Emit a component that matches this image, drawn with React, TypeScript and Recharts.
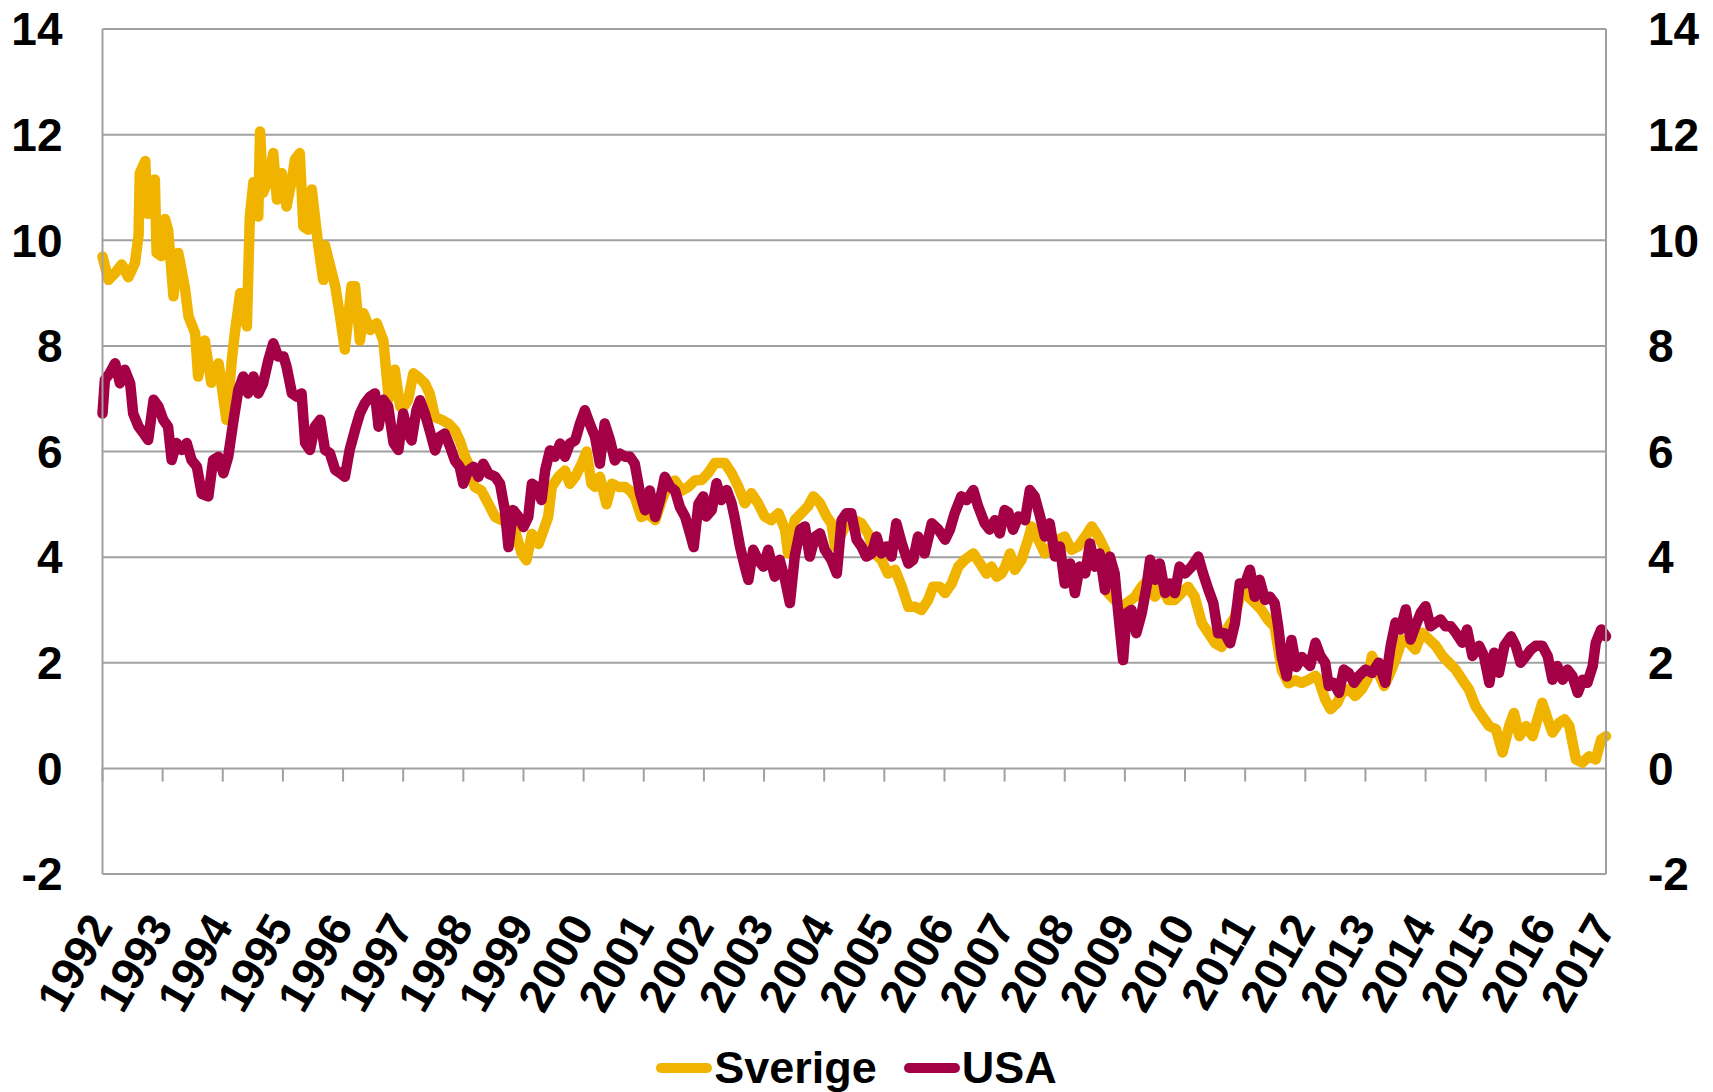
import React from "react";
import {
  CartesianGrid,
  Legend,
  Line,
  LineChart,
  ReferenceLine,
  XAxis,
  YAxis,
} from "recharts";

// decimal year / yield (%)
const sverigeDates = [
  1992.0, 1992.1, 1992.21, 1992.32, 1992.43, 1992.54, 1992.6, 1992.62, 1992.71, 1992.75,
  1992.79, 1992.87, 1992.9, 1992.98, 1993.04, 1993.09, 1993.18, 1993.26, 1993.37, 1993.43,
  1993.54, 1993.59, 1993.7, 1993.81, 1993.93, 1994.06, 1994.15, 1994.2, 1994.29, 1994.4,
  1994.45, 1994.51, 1994.59, 1994.62, 1994.67, 1994.76, 1994.84, 1994.9, 1994.98, 1995.06,
  1995.15, 1995.2, 1995.28, 1995.34, 1995.42, 1995.48, 1995.59, 1995.67, 1995.7, 1995.87,
  1995.95, 1996.03, 1996.14, 1996.2, 1996.28, 1996.34, 1996.45, 1996.56, 1996.67, 1996.76,
  1996.86, 1996.95, 1997.0, 1997.08, 1997.17, 1997.25, 1997.36, 1997.44, 1997.53, 1997.64,
  1997.75, 1997.86, 1997.94, 1998.03, 1998.11, 1998.19, 1998.3, 1998.42, 1998.53, 1998.64,
  1998.75, 1998.86, 1998.97, 1999.05, 1999.14, 1999.25, 1999.33, 1999.41, 1999.47, 1999.58,
  1999.69, 1999.77, 1999.86, 1999.97, 2000.05, 2000.13, 2000.19, 2000.27, 2000.38, 2000.47,
  2000.58, 2000.69, 2000.77, 2000.85, 2000.96, 2001.07, 2001.19, 2001.3, 2001.41, 2001.52,
  2001.63, 2001.74, 2001.85, 2001.96, 2002.07, 2002.18, 2002.35, 2002.46, 2002.57, 2002.68,
  2002.79, 2002.9, 2003.01, 2003.12, 2003.24, 2003.35, 2003.4, 2003.51, 2003.62, 2003.73,
  2003.82, 2003.93, 2004.04, 2004.12, 2004.18, 2004.29, 2004.4, 2004.51, 2004.62, 2004.73,
  2004.84, 2004.95, 2005.06, 2005.18, 2005.29, 2005.4, 2005.51, 2005.62, 2005.73, 2005.81,
  2005.92, 2006.01, 2006.12, 2006.23, 2006.34, 2006.48, 2006.59, 2006.7, 2006.78, 2006.87,
  2006.95, 2007.01, 2007.09, 2007.17, 2007.28, 2007.39, 2007.45, 2007.56, 2007.67, 2007.78,
  2007.89, 2008.0, 2008.11, 2008.22, 2008.34, 2008.45, 2008.56, 2008.67, 2008.72, 2008.83,
  2008.95, 2009.03, 2009.17, 2009.28, 2009.39, 2009.5, 2009.61, 2009.72, 2009.83, 2009.94,
  2010.05, 2010.16, 2010.28, 2010.39, 2010.5, 2010.61, 2010.72, 2010.83, 2010.94, 2011.05,
  2011.16, 2011.27, 2011.38, 2011.49, 2011.61, 2011.72, 2011.83, 2011.94, 2012.06, 2012.17,
  2012.22, 2012.33, 2012.42, 2012.53, 2012.61, 2012.72, 2012.83, 2012.94, 2013.03, 2013.11,
  2013.19, 2013.31, 2013.39, 2013.5, 2013.61, 2013.72, 2013.83, 2013.94, 2014.06, 2014.17,
  2014.28, 2014.39, 2014.5, 2014.61, 2014.72, 2014.83, 2014.94, 2015.06, 2015.17, 2015.28,
  2015.39, 2015.47, 2015.56, 2015.67, 2015.78, 2015.86, 2015.94, 2016.03, 2016.11, 2016.22,
  2016.31, 2016.39, 2016.5, 2016.61, 2016.72, 2016.83, 2016.92, 2017.0,
];
const sverigeYield = [
  9.69, 9.25, 9.38, 9.54, 9.3, 9.57, 10.1, 11.27, 11.5, 10.5,
  11.1, 11.15, 9.76, 9.7, 10.4, 10.2, 8.94, 9.76, 9.1, 8.56,
  8.24, 7.42, 8.1, 7.3, 7.67, 6.6, 7.73, 8.24, 9.0, 8.37,
  10.45, 11.1, 10.45, 12.06, 10.9, 11.15, 11.65, 10.77, 11.27, 10.64,
  11.15, 11.53, 11.65, 10.26, 10.2, 10.96, 9.88, 9.25, 9.9, 9.13,
  8.56, 7.93, 9.13, 9.13, 8.1, 8.62, 8.3, 8.43, 8.1, 7.0,
  7.55, 6.85, 6.84, 6.97, 7.48, 7.41, 7.29, 7.1, 6.65, 6.6,
  6.53, 6.4, 6.21, 5.9, 5.7, 5.33, 5.26, 5.0, 4.76, 4.7,
  4.89, 4.5, 4.07, 3.94, 4.44, 4.25, 4.5, 4.76, 5.33, 5.52,
  5.64, 5.39, 5.52, 5.77, 6.0, 5.39, 5.33, 5.52, 5.0, 5.39,
  5.33, 5.33, 5.26, 5.14, 4.76, 4.82, 4.7, 5.08, 5.39, 5.45,
  5.26, 5.33, 5.45, 5.46, 5.59, 5.78, 5.78, 5.59, 5.34, 5.02,
  5.21, 5.02, 4.77, 4.7, 4.83, 4.52, 4.07, 4.7, 4.83, 4.96,
  5.15, 5.02, 4.77, 4.64, 4.2, 4.45, 4.7, 4.7, 4.64, 4.45,
  4.07, 3.95, 3.69, 3.76, 3.44, 3.06, 3.06, 3.0, 3.19, 3.44,
  3.44, 3.32, 3.5, 3.82, 3.95, 4.07, 3.88, 3.69, 3.82, 3.63,
  3.69, 3.82, 4.07, 3.76, 3.95, 4.33, 4.58, 4.33, 4.07, 4.2,
  4.33, 4.39, 4.14, 4.2, 4.39, 4.58, 4.39, 4.14, 3.32, 3.19,
  3.06, 3.13, 3.25, 3.44, 3.57, 3.25, 3.44, 3.19, 3.19, 3.32,
  3.44, 3.25, 2.75, 2.56, 2.37, 2.3, 2.68, 2.87, 3.38, 3.25,
  3.13, 3.0, 2.81, 2.68, 1.86, 1.61, 1.67, 1.62, 1.68, 1.75,
  1.68, 1.31, 1.12, 1.24, 1.43, 1.5, 1.37, 1.5, 1.68, 2.13,
  1.87, 1.56, 1.75, 2.06, 2.44, 2.38, 2.25, 2.57, 2.44, 2.32,
  2.13, 2.0, 1.87, 1.68, 1.5, 1.18, 0.99, 0.8, 0.74, 0.3,
  0.8, 1.05, 0.61, 0.8, 0.61, 0.93, 1.24, 0.93, 0.68, 0.86,
  0.93, 0.8, 0.17, 0.11, 0.23, 0.17, 0.55, 0.61,
];

const usaDates = [
  1992.0, 1992.04, 1992.12, 1992.21, 1992.29, 1992.37, 1992.46, 1992.51, 1992.6, 1992.68,
  1992.76, 1992.85, 1992.93, 1993.01, 1993.09, 1993.15, 1993.23, 1993.32, 1993.4, 1993.48,
  1993.57, 1993.65, 1993.76, 1993.84, 1993.93, 1994.01, 1994.09, 1994.18, 1994.26, 1994.34,
  1994.42, 1994.51, 1994.59, 1994.67, 1994.76, 1994.84, 1994.92, 1995.01, 1995.06, 1995.15,
  1995.23, 1995.31, 1995.37, 1995.45, 1995.53, 1995.62, 1995.7, 1995.78, 1995.87, 1995.95,
  1996.03, 1996.11, 1996.2, 1996.28, 1996.36, 1996.45, 1996.53, 1996.59, 1996.67, 1996.75,
  1996.84, 1996.92, 1997.0, 1997.08, 1997.14, 1997.22, 1997.28, 1997.36, 1997.44, 1997.53,
  1997.61, 1997.69, 1997.78, 1997.86, 1997.94, 1998.0, 1998.08, 1998.17, 1998.25, 1998.33,
  1998.42, 1998.53, 1998.61, 1998.69, 1998.75, 1998.83, 1998.92, 1999.0, 1999.08, 1999.14,
  1999.22, 1999.3, 1999.36, 1999.44, 1999.52, 1999.61, 1999.69, 1999.77, 1999.86, 1999.94,
  2000.02, 2000.1, 2000.19, 2000.27, 2000.35, 2000.44, 2000.52, 2000.6, 2000.69, 2000.77,
  2000.85, 2000.94, 2001.02, 2001.1, 2001.19, 2001.27, 2001.35, 2001.44, 2001.52, 2001.6,
  2001.69, 2001.77, 2001.83, 2001.91, 2001.99, 2002.04, 2002.13, 2002.21, 2002.29, 2002.38,
  2002.46, 2002.52, 2002.6, 2002.68, 2002.74, 2002.82, 2002.9, 2002.99, 2003.07, 2003.18,
  2003.26, 2003.35, 2003.43, 2003.51, 2003.6, 2003.68, 2003.76, 2003.85, 2003.93, 2004.01,
  2004.12, 2004.21, 2004.29, 2004.37, 2004.45, 2004.54, 2004.62, 2004.7, 2004.79, 2004.87,
  2004.95, 2005.04, 2005.12, 2005.2, 2005.29, 2005.4, 2005.48, 2005.56, 2005.67, 2005.79,
  2005.9, 2006.01, 2006.09, 2006.17, 2006.28, 2006.37, 2006.48, 2006.56, 2006.67, 2006.75,
  2006.84, 2006.92, 2007.0, 2007.06, 2007.14, 2007.23, 2007.34, 2007.42, 2007.5, 2007.59,
  2007.67, 2007.75, 2007.84, 2007.92, 2008.0, 2008.09, 2008.17, 2008.25, 2008.34, 2008.42,
  2008.5, 2008.58, 2008.67, 2008.75, 2008.83, 2008.89, 2008.97, 2009.03, 2009.11, 2009.19,
  2009.28, 2009.36, 2009.42, 2009.5, 2009.58, 2009.67, 2009.75, 2009.83, 2009.91, 2010.0,
  2010.11, 2010.22, 2010.3, 2010.39, 2010.47, 2010.55, 2010.66, 2010.75, 2010.83, 2010.91,
  2011.0, 2011.08, 2011.16, 2011.24, 2011.33, 2011.41, 2011.49, 2011.55, 2011.61, 2011.69,
  2011.77, 2011.85, 2011.94, 2012.08, 2012.17, 2012.25, 2012.33, 2012.39, 2012.47, 2012.56,
  2012.64, 2012.72, 2012.81, 2012.89, 2013.0, 2013.11, 2013.22, 2013.33, 2013.42, 2013.5,
  2013.58, 2013.67, 2013.75, 2013.83, 2013.92, 2014.0, 2014.08, 2014.17, 2014.25, 2014.33,
  2014.42, 2014.5, 2014.61, 2014.69, 2014.78, 2014.89, 2014.97, 2015.06, 2015.14, 2015.22,
  2015.31, 2015.42, 2015.5, 2015.58, 2015.67, 2015.75, 2015.83, 2015.94, 2016.03, 2016.11,
  2016.19, 2016.28, 2016.36, 2016.44, 2016.53, 2016.61, 2016.69, 2016.78, 2016.83, 2016.92,
  2017.0,
];
const usaYield = [
  6.72, 7.36, 7.48, 7.67, 7.29, 7.55, 7.29, 6.72, 6.47, 6.35,
  6.22, 6.98, 6.85, 6.6, 6.47, 5.84, 6.16, 6.03, 6.16, 5.84,
  5.71, 5.2, 5.15, 5.84, 5.9, 5.59, 5.9, 6.6, 7.17, 7.42,
  7.1, 7.42, 7.1, 7.29, 7.74, 8.05, 7.8, 7.8, 7.61, 7.1,
  7.04, 7.1, 6.16, 6.03, 6.47, 6.6, 6.03, 5.97, 5.65, 5.59,
  5.52, 6.03, 6.41, 6.72, 6.91, 7.04, 7.1, 6.47, 6.98, 6.85,
  6.16, 6.03, 6.72, 6.34, 6.21, 6.78, 6.97, 6.72, 6.4, 6.02,
  6.28, 6.34, 6.09, 5.83, 5.71, 5.39, 5.64, 5.71, 5.52, 5.77,
  5.58, 5.52, 5.39, 4.89, 4.19, 4.89, 4.76, 4.57, 4.76, 5.39,
  5.33, 5.08, 5.64, 6.02, 5.9, 6.15, 5.9, 6.15, 6.21, 6.53,
  6.78, 6.53, 6.28, 5.77, 6.53, 6.21, 5.83, 5.96, 5.9, 5.9,
  5.77, 5.2, 4.89, 5.26, 4.76, 5.08, 5.52, 5.33, 5.26, 4.95,
  4.76, 4.44, 4.19, 5.01, 5.15, 4.77, 4.89, 5.4, 5.08, 5.27,
  5.02, 4.7, 4.2, 3.82, 3.57, 4.14, 3.95, 3.82, 4.14, 3.63,
  3.95, 3.57, 3.13, 4.01, 4.52, 4.58, 4.01, 4.39, 4.45, 4.14,
  3.95, 3.69, 4.7, 4.83, 4.83, 4.33, 4.2, 4.01, 4.07, 4.39,
  4.07, 4.2, 4.01, 4.64, 4.26, 3.88, 3.95, 4.39, 4.07, 4.64,
  4.52, 4.33, 4.52, 4.83, 5.15, 5.08, 5.27, 4.96, 4.64, 4.52,
  4.7, 4.45, 4.89, 4.85, 4.52, 4.77, 4.7, 5.27, 5.15, 4.77,
  4.39, 4.64, 4.01, 4.2, 3.5, 3.88, 3.32, 3.82, 3.69, 4.26,
  3.82, 4.07, 3.38, 4.01, 3.69, 2.94, 2.05, 2.94, 3.0, 2.56,
  2.94, 3.44, 3.95, 3.57, 3.88, 3.32, 3.5, 3.32, 3.82, 3.69,
  3.82, 4.01, 3.69, 3.38, 3.13, 2.56, 2.56, 2.37, 2.75, 3.5,
  3.5, 3.76, 3.25, 3.57, 3.19, 3.25, 3.13, 2.68, 2.11, 1.74,
  2.43, 1.92, 2.11, 1.94, 2.38, 2.13, 2.0, 1.56, 1.62, 1.43,
  1.87, 1.81, 1.62, 1.75, 1.87, 1.81, 2.0, 1.62, 2.32, 2.76,
  2.63, 3.01, 2.44, 2.69, 2.95, 3.07, 2.69, 2.76, 2.82, 2.69,
  2.69, 2.57, 2.38, 2.63, 2.13, 2.32, 2.13, 1.62, 2.19, 1.81,
  2.32, 2.5, 2.32, 2.0, 2.13, 2.25, 2.32, 2.32, 2.13, 1.68,
  1.94, 1.68, 1.87, 1.75, 1.43, 1.68, 1.62, 1.94, 2.38, 2.63,
  2.5,
];

const years = [
  1992, 1993, 1994, 1995, 1996, 1997, 1998, 1999, 2000, 2001, 2002, 2003, 2004,
  2005, 2006, 2007, 2008, 2009, 2010, 2011, 2012, 2013, 2014, 2015, 2016, 2017,
];
const yTicks = [-2, 0, 2, 4, 6, 8, 10, 12, 14];

const sverigeData = sverigeDates.map((t, i) => ({ t, v: sverigeYield[i] }));
const usaData = usaDates.map((t, i) => ({ t, v: usaYield[i] }));

const FONT = '"Liberation Sans", Arial, Helvetica, sans-serif';
const GRID = "#a0a0a0";
const GOLD = "#f0b400";
const WINE = "#a30045";

function YearTick({ x, y, payload }: any) {
  const tx = x - 3;
  const ty = y + 44;
  return (
    <text
      x={tx}
      y={ty}
      dy="0.36em"
      textAnchor="end"
      transform={`rotate(-60, ${tx}, ${ty})`}
      fontFamily={FONT}
      fontWeight={700}
      fontSize={46}
      fill="#000"
    >
      {payload.value}
    </text>
  );
}

function LegendContent() {
  const items = [
    { name: "Sverige", color: GOLD },
    { name: "USA", color: WINE },
  ];
  return (
    <div
      style={{
        display: "flex",
        justifyContent: "center",
        alignItems: "center",
        fontFamily: FONT,
        fontWeight: 700,
        fontSize: 45,
        lineHeight: "45px",
        color: "#000",
      }}
    >
      {items.map((it, i) => (
        <div key={it.name} style={{ display: "flex", alignItems: "center", marginRight: i === 0 ? 27 : 0 }}>
          <div style={{ width: 56, height: 10, borderRadius: 5, background: it.color, marginRight: 2 }} />
          <span>{it.name}</span>
        </div>
      ))}
    </div>
  );
}

export default function App() {
  return (
    <div style={{ position: "absolute", left: 0, top: 0, width: 1713, height: 1092, background: "#fff" }}>
      <LineChart width={1713} height={1092} margin={{ top: 29, right: 0, bottom: 0, left: 0 }}>
        <CartesianGrid yAxisId="left" vertical={false} stroke={GRID} strokeWidth={2} />
        <XAxis
          dataKey="t"
          type="number"
          domain={[1992, 2017]}
          ticks={years}
          interval={0}
          height={218}
          axisLine={false}
          tickLine={false}
          tickSize={0}
          tickMargin={0}
          tick={<YearTick />}
          allowDuplicatedCategory={false}
        />
        <YAxis
          yAxisId="left"
          type="number"
          domain={[-2, 14]}
          ticks={yTicks}
          interval={0}
          width={102.5}
          axisLine={{ stroke: GRID, strokeWidth: 2 }}
          tickLine={false}
          tickSize={0}
          tickMargin={40}
          tick={{ fontFamily: FONT, fontWeight: 700, fontSize: 46, fill: "#000" }}
        />
        <YAxis
          yAxisId="right"
          orientation="right"
          type="number"
          domain={[-2, 14]}
          ticks={yTicks}
          interval={0}
          width={107}
          axisLine={{ stroke: GRID, strokeWidth: 2 }}
          tickLine={false}
          tickSize={0}
          tickMargin={42}
          tick={{ fontFamily: FONT, fontWeight: 700, fontSize: 46, fill: "#000", textAnchor: "start" }}
        />
        {years.map((yr) => (
          <ReferenceLine
            key={yr}
            yAxisId="left"
            segment={[
              { x: yr, y: 0 },
              { x: yr, y: -0.25 },
            ]}
            stroke={GRID}
            strokeWidth={2}
          />
        ))}
        <Legend
          layout="horizontal"
          verticalAlign="middle"
          align="center"
          content={<LegendContent />}
          wrapperStyle={{ top: 1045, left: 0, width: 1713 }}
        />
        <Line
          yAxisId="left"
          data={sverigeData}
          dataKey="v"
          name="Sverige"
          type="linear"
          stroke={GOLD}
          strokeWidth={10.5}
          strokeLinejoin="round"
          strokeLinecap="round"
          dot={false}
          activeDot={false}
          isAnimationActive={false}
        />
        <Line
          yAxisId="right"
          data={usaData}
          dataKey="v"
          name="USA"
          type="linear"
          stroke={WINE}
          strokeWidth={10.5}
          strokeLinejoin="round"
          strokeLinecap="round"
          dot={false}
          activeDot={false}
          isAnimationActive={false}
        />
      </LineChart>
    </div>
  );
}
